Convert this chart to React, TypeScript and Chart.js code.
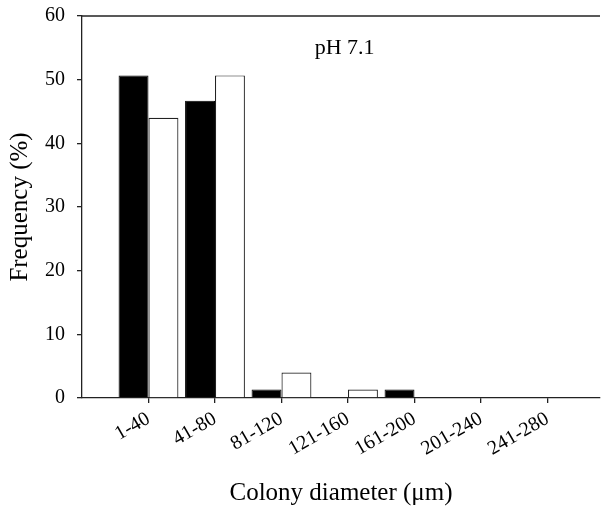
import React, { useEffect, useRef } from "react";
import { Chart, registerables } from "chart.js";

Chart.register(...registerables);

const categories = ["1-40", "41-80", "81-120", "121-160", "161-200", "201-240", "241-280"];
const seriesBlack = [50.67, 46.67, 1.33, null, 1.33, null, null];
const seriesWhite = [44.0, 50.67, 4.0, 1.33, null, null, null];
const yTicks = [0, 10, 20, 30, 40, 50, 60];
const annotationText = "pH 7.1";
const annotationX = 3.95;
const annotationY = 55;

const FONT = "'Liberation Serif', 'Times New Roman', serif";

const frameTopPlugin = {
  id: "frameTop",
  afterDraw(chart: any) {
    const { ctx, chartArea, scales } = chart;
    ctx.save();
    ctx.strokeStyle = "#222";
    ctx.lineWidth = 1.3;
    ctx.beginPath();
    ctx.moveTo(chartArea.left, chartArea.top);
    ctx.lineTo(chartArea.right, chartArea.top);
    ctx.stroke();
    ctx.fillStyle = "#000";
    ctx.font = `22px ${FONT}`;
    ctx.textAlign = "center";
    ctx.textBaseline = "middle";
    ctx.fillText(annotationText, scales.x.getPixelForValue(annotationX), scales.y.getPixelForValue(annotationY));
    ctx.restore();
  },
};

export default function App() {
  const ref = useRef<HTMLCanvasElement | null>(null);
  useEffect(() => {
    document.body.style.margin = "0";
    const canvas = ref.current;
    if (!canvas) return;
    const chart = new Chart(canvas, {
      type: "bar",
      data: {
        datasets: [
          {
            label: "black",
            data: categories.map((_, i) => ({ x: i + 1, y: seriesBlack[i] })) as any,
            backgroundColor: "#000",
            borderColor: "#000",
            borderWidth: 1,
          },
          {
            label: "white",
            data: categories.map((_, i) => ({ x: i + 1, y: seriesWhite[i] })) as any,
            backgroundColor: "#fff",
            borderColor: "#222",
            borderWidth: 1.2,
          },
        ],
      },
      options: {
        animation: false,
        responsive: false,
        maintainAspectRatio: false,
        layout: { padding: { top: 16, right: 7, left: 0, bottom: 0 } },
        plugins: { legend: { display: false }, tooltip: { enabled: false } },
        datasets: { bar: { categoryPercentage: 0.9, barPercentage: 1 } },
        scales: {
          x: {
            type: "linear",
            offset: false,
            min: 0,
            max: 7.79,
            afterBuildTicks(scale: any) {
              scale.ticks = categories.map((_, i) => ({ value: i + 1 }));
            },
            afterFit(scale: any) {
              scale.height = 122;
              scale.paddingLeft = 0;
              scale.paddingRight = 0;
            },
            grid: { display: true, offset: false, drawOnChartArea: false, drawTicks: true, tickLength: 5, color: "#222", lineWidth: 1.3 },
            border: { display: true, color: "#222", width: 1.3 },
            ticks: {
              autoSkip: false,
              minRotation: 30,
              maxRotation: 30,
              padding: 4,
              color: "#000",
              font: { family: FONT, size: 20 },
              callback: (v: any) => categories[Number(v) - 1] ?? "",
            },
            title: {
              display: true,
              text: "Colony diameter (\u03bcm)",
              color: "#000",
              font: { family: FONT, size: 25 },
              padding: { top: 0, bottom: 12 },
            },
          },
          y: {
            min: 0,
            max: 60,
            afterBuildTicks(scale: any) {
              scale.ticks = yTicks.map((v) => ({ value: v }));
            },
            afterFit(scale: any) {
              scale.width = 82;
              scale.paddingTop = 0;
              scale.paddingBottom = 0;
            },
            grid: { display: true, drawOnChartArea: false, drawTicks: true, tickLength: 5, color: "#222", lineWidth: 1.3 },
            border: { display: true, color: "#222", width: 1.3 },
            ticks: {
              padding: 12,
              color: "#000",
              font: { family: FONT, size: 20 },
            },
            title: {
              display: true,
              text: "Frequency (%)",
              color: "#000",
              font: { family: FONT, size: 25 },
              padding: { top: 5, bottom: 0 },
            },
          },
        },
      },
      plugins: [frameTopPlugin],
    });
    return () => chart.destroy();
  }, []);
  return <canvas ref={ref} width={607} height={520} style={{ display: "block" }} />;
}
